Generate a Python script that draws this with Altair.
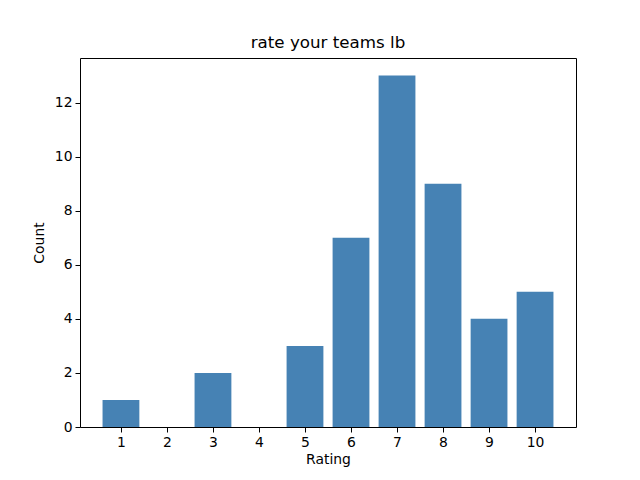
import altair as alt
import pandas as pd

ratings = [1, 2, 3, 4, 5, 6, 7, 8, 9, 10]
counts = [1, 0, 2, 0, 3, 7, 13, 9, 4, 5]

df = pd.DataFrame({"Rating": ratings, "Count": counts})
df["x0"] = df["Rating"] - 0.4
df["x1"] = df["Rating"] + 0.4
df["base"] = 0

FONT = "DejaVu Sans"

chart = alt.Chart(df).mark_bar(color="#4682b4").encode(
    x=alt.X("x0:Q", scale=alt.Scale(domain=[0.11, 10.89], nice=False, zero=False),
            axis=alt.Axis(title="Rating", values=ratings, format="d", grid=False, domain=False,
                          tickColor="black", tickSize=5, labelPadding=3,
                          labelFont=FONT, labelFontSize=13.9, labelColor="black",
                          titleFont=FONT, titleFontSize=13.9, titleFontWeight="normal",
                          titleColor="black", titlePadding=4)),
    x2="x1:Q",
    y=alt.Y("Count:Q", scale=alt.Scale(domain=[0, 13.65], nice=False),
            axis=alt.Axis(title="Count", values=[0, 2, 4, 6, 8, 10, 12], grid=False, domain=False,
                          tickColor="black", tickSize=5, labelPadding=3,
                          labelFont=FONT, labelFontSize=13.9, labelColor="black",
                          titleFont=FONT, titleFontSize=13.9, titleFontWeight="normal",
                          titleColor="black", titlePadding=8)),
    y2="base:Q",
).properties(
    width=496,
    height=369,
    background="white",
    title=alt.TitleParams("rate your teams lb", font=FONT, fontSize=16.7, fontWeight="normal",
                          color="black", anchor="middle", offset=6),
    autosize=alt.AutoSizeParams(type="none"),
    padding={"left": 72, "top": 50, "right": 56, "bottom": 45},
).configure_view(stroke="black", strokeWidth=1)

chart.save("out.html", embed_options={"renderer": "svg", "actions": False})
